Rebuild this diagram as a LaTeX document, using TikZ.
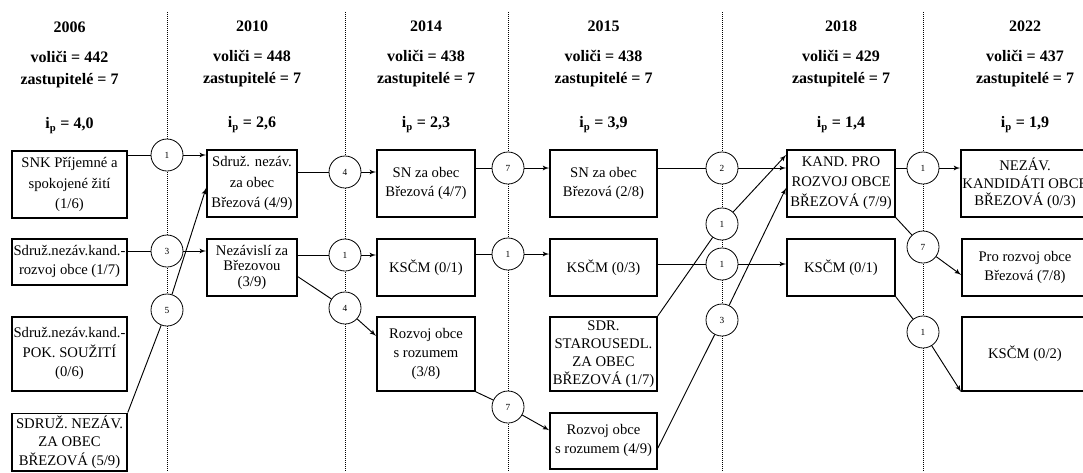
\documentclass[tikz,border=0pt]{standalone}
\usepackage{fontspec}
\setmainfont{Liberation Serif}
\usetikzlibrary{shapes,arrows,positioning}
\tikzstyle{block} = [rectangle, draw, line width=1.4pt, align=center, inner sep=1pt,
    font=\fontsize{11}{14.5}\selectfont]
\tikzstyle{votes} = [circle, draw, line width=0.6pt, fill=white, minimum size=24pt,
    inner sep=0pt, font=\fontsize{7}{8}\selectfont]
\tikzstyle{yearhead} = [align=center, inner sep=0pt, font=\bfseries\fontsize{12}{16.5}\selectfont]
\tikzstyle{divider} = [draw, line width=0.5pt, densely dotted]
\tikzstyle{link} = [draw, line width=0.7pt]
\tikzstyle{line} = [draw, line width=0.7pt, -latex']

\begin{document}
\begin{tikzpicture}[x=0.75pt, y=-0.75pt]

	\useasboundingbox (0,0) rectangle (1083,472);

	\foreach \x in {167,345,508,722,923}
		\path [divider] (\x,12) -- (\x,472);

	\node [block, minimum width=86pt, minimum height=50pt, font=\fontsize{11}{15.5}\selectfont] (snk06) at (69.5,184.5) {SNK Příjemné a\\spokojené žití\\(1/6)};
	\node [block, minimum width=86pt, minimum height=34.5pt, below=14.25pt of snk06] (rozvoj06) {Sdruž.nezáv.kand.-\\rozvoj obce (1/7)};
	\node [block, minimum width=86pt, minimum height=55.5pt, below=22.5pt of rozvoj06] (pok06) {Sdruž.nezáv.kand.-\\POK. SOUŽITÍ\\(0/6)};
	\node [block, minimum width=86pt, minimum height=43pt, below=15.75pt of pok06, font=\fontsize{11}{14}\selectfont] (sdruz06) {SDRUŽ. NEZÁV.\\ZA OBEC\\BŘEZOVÁ (5/9)};

	\node [block, minimum width=67.5pt, minimum height=50pt, font=\fontsize{11}{15.5}\selectfont] (sdruz10) at (252,183.5) {Sdruž. nezáv.\\za obec\\Březová (4/9)};
	\node [block, minimum width=67.5pt, minimum height=43pt, below=15pt of sdruz10, font=\fontsize{11}{11.5}\selectfont] (nezav10) {Nezávislí za\\Březovou\\(3/9)};

	\node [block, minimum width=73.5pt, minimum height=50pt] (sn14) at (426,183.5) {SN za obec\\Březová (4/7)};
	\node [block, minimum width=73.5pt, minimum height=43pt, below=15pt of sn14] (kscm14) {KSČM (0/1)};
	\node [block, minimum width=73.5pt, minimum height=55.5pt, below=14.25pt of kscm14] (rozum14) {Rozvoj obce\\s rozumem\\(3/8)};

	\node [block, minimum width=80pt, minimum height=50pt] (sn15) at (603.5,183.5) {SN za obec\\Březová (2/8)};
	\node [block, minimum width=80pt, minimum height=43pt, below=15pt of sn15] (kscm15) {KSČM (0/3)};
	\node [block, minimum width=80pt, minimum height=55.5pt, below=14.25pt of kscm15, font=\fontsize{11}{13.5}\selectfont] (sdr15) {SDR.\\STAROUSEDL.\\ZA OBEC\\BŘEZOVÁ (1/7)};
	\node [block, minimum width=80pt, minimum height=42pt, below=15pt of sdr15] (rozum15) {Rozvoj obce\\s rozumem (4/9)};

	\node [block, minimum width=81pt, minimum height=50pt, font=\fontsize{11}{15}\selectfont] (kand18) at (841,183.5) {KAND. PRO\\ROZVOJ OBCE\\BŘEZOVÁ (7/9)};
	\node [block, minimum width=81pt, minimum height=43pt, below=15pt of kand18] (kscm18) {KSČM (0/1)};

	\node [block, minimum width=94.5pt, minimum height=50pt, font=\fontsize{11}{13}\selectfont] (nezav22) at (1025,183.5) {NEZÁV.\\KANDIDÁTI OBCE\\BŘEZOVÁ (0/3)};
	\node [block, minimum width=94.5pt, minimum height=43pt, below=15pt of nezav22] (pro22) {Pro rozvoj obce\\Březová (7/8)};
	\node [block, minimum width=94.5pt, minimum height=55.5pt, below=14.25pt of pro22] (kscm22) {KSČM (0/2)};

	\node [yearhead, above=12.25pt of snk06] (y06) {2006\\[6pt]voliči = 442\\zastupitelé = 7\\[17pt]i\textsubscript{p} = 4,0};
	\node [yearhead, above=12.25pt of sdruz10] (y10) {2010\\[6pt]voliči = 448\\zastupitelé = 7\\[17pt]i\textsubscript{p} = 2,6};
	\node [yearhead, above=12.25pt of sn14] (y14) {2014\\[6pt]voliči = 438\\zastupitelé = 7\\[17pt]i\textsubscript{p} = 2,3};
	\node [yearhead, above=12.25pt of sn15] (y15) {2015\\[6pt]voliči = 438\\zastupitelé = 7\\[17pt]i\textsubscript{p} = 3,9};
	\node [yearhead, above=12.25pt of kand18] (y18) {2018\\[6pt]voliči = 429\\zastupitelé = 7\\[17pt]i\textsubscript{p} = 1,4};
	\node [yearhead, above=12.25pt of nezav22] (y22) {2022\\[6pt]voliči = 437\\zastupitelé = 7\\[17pt]i\textsubscript{p} = 1,9};

	\node [votes] (v06a) at (167,155) {1};
	\node [votes] (v06b) at (167,251) {3};
	\node [votes] (v06c) at (167,310) {5};
	\node [votes] (v10a) at (345,172) {4};
	\node [votes] (v10b) at (345,255) {1};
	\node [votes] (v10c) at (345,308) {4};
	\node [votes] (v14a) at (508,168) {7};
	\node [votes] (v14b) at (508,254) {1};
	\node [votes] (v14c) at (508,407) {7};
	\node [votes] (v15a) at (722,168) {2};
	\node [votes] (v15b) at (722,224) {1};
	\node [votes] (v15c) at (722,264) {1};
	\node [votes] (v15d) at (722,320) {3};
	\node [votes] (v18a) at (923,168) {1};
	\node [votes] (v18b) at (923,247) {7};
	\node [votes] (v18c) at (923,332) {1};

	\path [link] (snk06.east |- v06a) -- (v06a);
	\path [line] (v06a) -- (v06a -| sdruz10.west);
	\path [link] (rozvoj06.east |- v06b) -- (v06b);
	\path [line] (v06b) -- (v06b -| nezav10.west);
	\path [link] (sdruz06.north east) -- (v06c);
	\path [line] (v06c) -- ([yshift=-3.4pt]sdruz10.west);

	\path [link] (sdruz10.east |- v10a) -- (v10a);
	\path [line] (v10a) -- (v10a -| sn14.west);
	\path [link] (nezav10.east |- v10b) -- (v10b);
	\path [line] (v10b) -- (v10b -| kscm14.west);
	\path [link] ([yshift=-7pt]nezav10.east) -- (v10c);
	\path [line] (v10c) -- ([yshift=13.5pt]rozum14.west);

	\path [link] (sn14.east |- v14a) -- (v14a);
	\path [line] (v14a) -- (v14a -| sn15.west);
	\path [link] (kscm14.east |- v14b) -- (v14b);
	\path [line] (v14b) -- (v14b -| kscm15.west);
	\path [link] (rozum14.south east) -- (v14c);
	\path [line] (v14c) -- ([yshift=7.9pt]rozum15.west);

	\path [link] (sn15.east |- v15a) -- (v15a);
	\path [line] (v15a) -- (v15a -| kand18.west);
	\path [link] (sdr15.north east) -- (v15b);
	\path [line] (v15b) -- ([yshift=21.4pt]kand18.west);
	\path [link] (kscm15.east |- v15c) -- (v15c);
	\path [line] (v15c) -- (v15c -| kscm18.west);
	\path [link] ([yshift=-5.6pt]rozum15.east) -- (v15d);
	\path [line] (v15d) -- ([yshift=-3.4pt]kand18.west);

	\path [link] (kand18.east |- v18a) -- (v18a);
	\path [line] (v18a) -- (v18a -| nezav22.west);
	\path [link] (kand18.south east) -- (v18b);
	\path [line] (v18b) -- ([yshift=-5.6pt]pro22.west);
	\path [link] (kscm18.south east) -- (v18c);
	\path [line] (v18c) -- (kscm22.south west);

\end{tikzpicture}
\end{document}
